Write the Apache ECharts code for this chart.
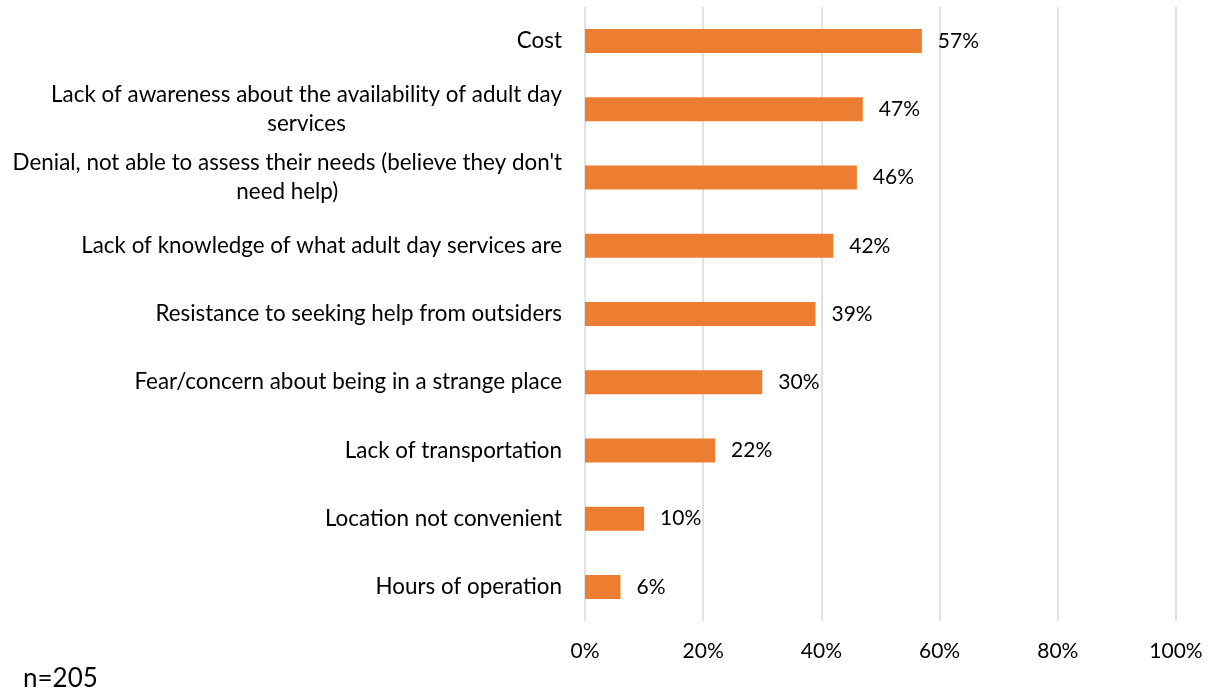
<!DOCTYPE html>
<html>
<head>
<meta charset="utf-8">
<title>Barriers to using adult day services</title>
<script src="https://cdn.jsdelivr.net/npm/echarts@6/dist/echarts.min.js"></script>
<style>
  html, body { margin: 0; padding: 0; background: #ffffff; }
  #chart { width: 1211px; height: 694px; }
</style>
</head>
<body>
<div id="chart"></div>
<script>
// Reasons reported (top to bottom), with line breaks where the labels wrap
const categories = [
  "Cost",
  "Lack of awareness about the availability of adult day\nservices",
  "Denial, not able to assess their needs (believe they don't\nneed help)",
  "Lack of knowledge of what adult day services are",
  "Resistance to seeking help from outsiders",
  "Fear/concern about being in a strange place",
  "Lack of transportation",
  "Location not convenient",
  "Hours of operation"
];

// Share of respondents citing each reason (%)
const percentValues = [57, 47, 46, 42, 39, 30, 22, 10, 6];

// Value axis ticks (%)
const axisTicks = [0, 20, 40, 60, 80, 100];

const sampleNote = "n=205";

const FONT = "Lato";
const TEXT = "#000000";

const chart = echarts.init(document.getElementById("chart"), null, { renderer: "canvas" });

chart.setOption({
  animation: false,
  backgroundColor: "#ffffff",
  grid: { left: 585, right: 35, top: 7, bottom: 73, containLabel: false },
  xAxis: {
    type: "value",
    min: axisTicks[0],
    max: axisTicks[axisTicks.length - 1],
    interval: axisTicks[1] - axisTicks[0],
    axisLine: { show: false },
    axisTick: { show: false },
    splitLine: { show: true, lineStyle: { color: "#d9d9d9", width: 1.5 } },
    axisLabel: {
      formatter: "{value}%",
      color: TEXT,
      fontFamily: FONT,
      fontSize: 21,
      margin: 20
    }
  },
  yAxis: {
    type: "category",
    data: categories,
    inverse: true,
    axisLine: { show: false },
    axisTick: { show: false },
    splitLine: { show: false },
    axisLabel: {
      margin: 23,
      color: TEXT,
      fontFamily: FONT,
      fontSize: 22.4,
      lineHeight: 29,
      // wrapped lines are centred on each other, the block sits right against the axis
      formatter: function (value) {
        return value.split("\n").map(function (line) { return "{c|" + line + "}"; }).join("\n");
      },
      rich: {
        c: { align: "center", color: TEXT, fontFamily: FONT, fontSize: 22.4, lineHeight: 29 }
      }
    }
  },
  series: [{
    type: "bar",
    data: percentValues,
    barWidth: 24,
    itemStyle: { color: "#ED7D31" },
    label: {
      show: true,
      position: "right",
      distance: 16,
      formatter: "{c}%",
      color: TEXT,
      fontFamily: FONT,
      fontSize: 21
    }
  }],
  graphic: [{
    type: "text",
    left: 23,
    top: 666,
    style: {
      text: sampleNote,
      fill: TEXT,
      font: "26px " + FONT
    }
  }]
});
</script>
</body>
</html>
